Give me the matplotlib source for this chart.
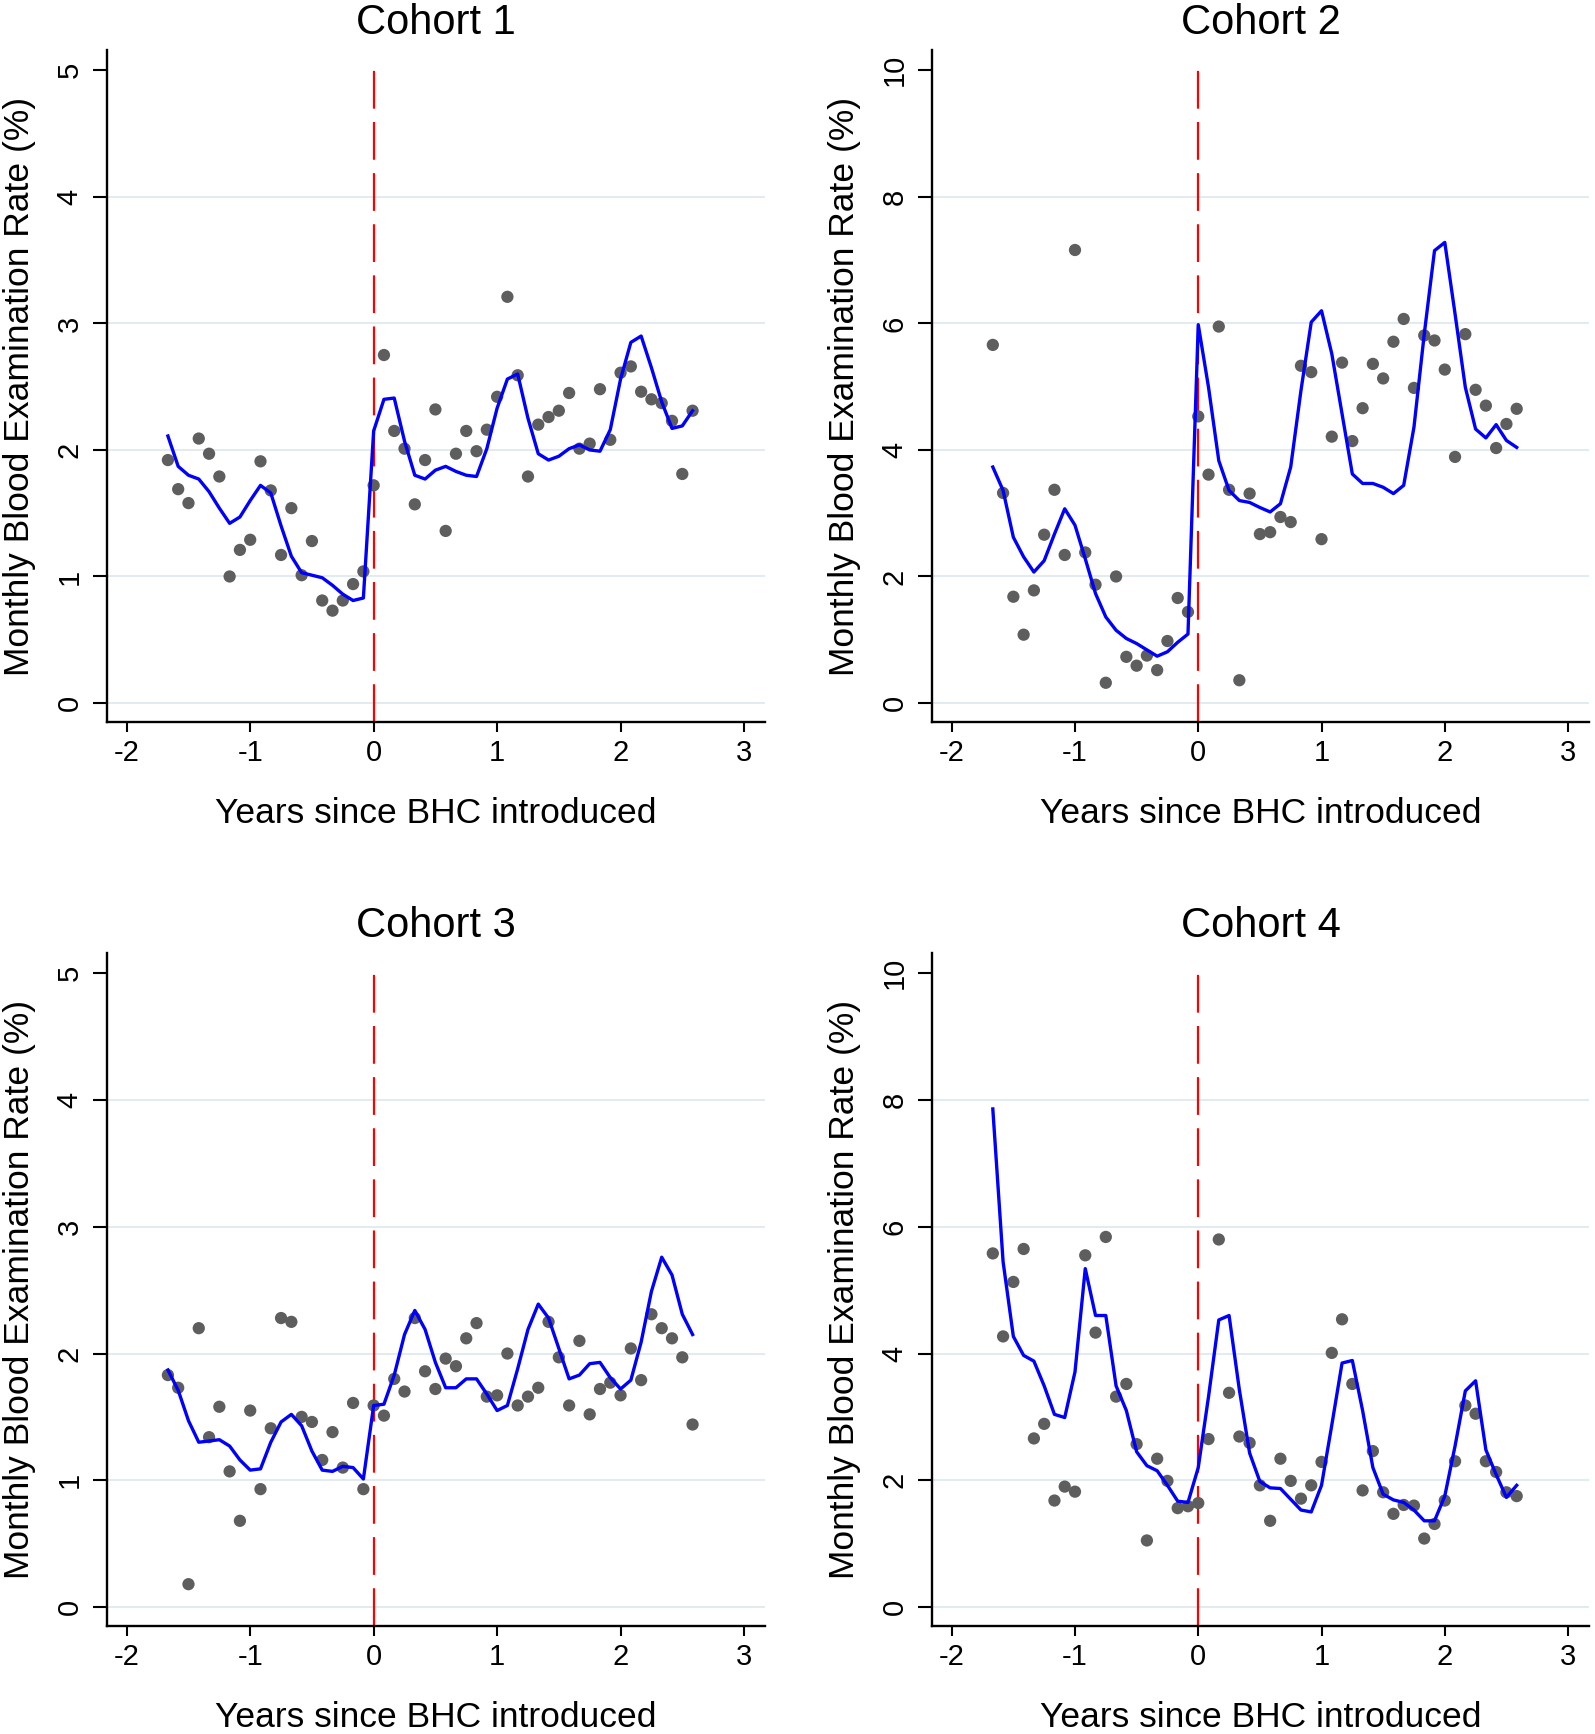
import numpy as np
import matplotlib
matplotlib.use("Agg")
import matplotlib.pyplot as plt

plt.rcParams['font.family'] = ['Liberation Sans', 'DejaVu Sans']

# months relative to BHC introduction (-20 .. 31), plotted in years
months = np.arange(-20, 32)
years = months / 12.0

cohort_names = ["Cohort 1", "Cohort 2", "Cohort 3", "Cohort 4"]

c1_rate = [1.92, 1.69, 1.58, 2.09, 1.97, 1.79, 1.00, 1.21, 1.29, 1.91,
           1.68, 1.17, 1.54, 1.01, 1.28, 0.81, 0.73, 0.81, 0.94, 1.04,
           1.72, 2.75, 2.15, 2.01, 1.57, 1.92, 2.32, 1.36, 1.97, 2.15,
           1.99, 2.16, 2.42, 3.21, 2.59, 1.79, 2.20, 2.26, 2.31, 2.45,
           2.01, 2.05, 2.48, 2.08, 2.61, 2.66, 2.46, 2.40, 2.37, 2.23,
           1.81, 2.31]
c1_fit = [2.11, 1.87, 1.80, 1.77, 1.67, 1.54, 1.42, 1.47, 1.60, 1.72,
          1.66, 1.40, 1.16, 1.03, 1.01, 0.99, 0.93, 0.86, 0.81, 0.83,
          2.15, 2.40, 2.41, 2.07, 1.80, 1.77, 1.84, 1.87, 1.83, 1.80,
          1.79, 2.01, 2.33, 2.56, 2.60, 2.25, 1.97, 1.92, 1.95, 2.01,
          2.04, 2.00, 1.99, 2.16, 2.56, 2.85, 2.90, 2.65, 2.38, 2.17,
          2.19, 2.31]

c2_rate = [5.66, 3.32, 1.68, 1.08, 1.78, 2.66, 3.37, 2.34, 7.16, 2.38,
           1.87, 0.32, 2.00, 0.73, 0.59, 0.75, 0.52, 0.98, 1.66, 1.44,
           4.53, 3.61, 5.95, 3.37, 0.36, 3.31, 2.67, 2.70, 2.94, 2.86,
           5.33, 5.23, 2.59, 4.21, 5.38, 4.14, 4.66, 5.36, 5.13, 5.71,
           6.07, 4.98, 5.81, 5.73, 5.27, 3.89, 5.83, 4.95, 4.70, 4.03,
           4.41, 4.65]
c2_fit = [3.73, 3.36, 2.62, 2.31, 2.07, 2.25, 2.67, 3.07, 2.81, 2.28,
          1.73, 1.36, 1.15, 1.02, 0.94, 0.84, 0.74, 0.81, 0.96, 1.09,
          5.98, 4.99, 3.83, 3.36, 3.20, 3.17, 3.09, 3.02, 3.15, 3.73,
          4.94, 6.02, 6.20, 5.52, 4.57, 3.62, 3.47, 3.47, 3.41, 3.31,
          3.44, 4.36, 5.83, 7.15, 7.28, 6.15, 4.99, 4.33, 4.19, 4.40,
          4.15, 4.04]

c3_rate = [1.83, 1.73, 0.18, 2.20, 1.34, 1.58, 1.07, 0.68, 1.55, 0.93,
           1.41, 2.28, 2.25, 1.50, 1.46, 1.16, 1.38, 1.10, 1.61, 0.93,
           1.59, 1.51, 1.80, 1.70, 2.28, 1.86, 1.72, 1.96, 1.90, 2.12,
           2.24, 1.66, 1.67, 2.00, 1.59, 1.66, 1.73, 2.25, 1.97, 1.59,
           2.10, 1.52, 1.72, 1.77, 1.67, 2.04, 1.79, 2.31, 2.20, 2.12,
           1.97, 1.44]
c3_fit = [1.87, 1.71, 1.47, 1.30, 1.31, 1.32, 1.27, 1.16, 1.08, 1.09,
          1.30, 1.46, 1.52, 1.43, 1.23, 1.08, 1.07, 1.11, 1.10, 1.01,
          1.59, 1.60, 1.83, 2.15, 2.34, 2.19, 1.93, 1.73, 1.73, 1.80,
          1.80, 1.68, 1.55, 1.59, 1.88, 2.19, 2.39, 2.28, 2.04, 1.80,
          1.83, 1.92, 1.93, 1.81, 1.72, 1.79, 2.09, 2.49, 2.76, 2.62,
          2.31, 2.15]

c4_rate = [5.58, 4.27, 5.13, 5.65, 2.66, 2.89, 1.68, 1.90, 1.82, 5.55,
           4.33, 5.84, 3.32, 3.52, 2.57, 1.05, 2.34, 1.99, 1.56, 1.59,
           1.64, 2.65, 5.80, 3.38, 2.69, 2.59, 1.92, 1.36, 2.34, 1.99,
           1.71, 1.92, 2.29, 4.01, 4.54, 3.52, 1.84, 2.46, 1.81, 1.47,
           1.61, 1.60, 1.08, 1.31, 1.68, 2.30, 3.18, 3.05, 2.30, 2.13,
           1.81, 1.75]
c4_fit = [7.86, 5.45, 4.27, 3.97, 3.88, 3.49, 3.04, 2.99, 3.71, 5.34,
          4.60, 4.60, 3.49, 3.10, 2.45, 2.23, 2.15, 1.92, 1.67, 1.65,
          2.20, 3.32, 4.53, 4.60, 3.43, 2.43, 1.98, 1.88, 1.87, 1.70,
          1.53, 1.50, 1.92, 2.87, 3.85, 3.89, 3.10, 2.20, 1.78, 1.69,
          1.65, 1.53, 1.36, 1.36, 1.75, 2.54, 3.41, 3.57, 2.48, 2.09,
          1.73, 1.92]

rates = [c1_rate, c2_rate, c3_rate, c4_rate]
fits = [c1_fit, c2_fit, c3_fit, c4_fit]
y_ticks = [[0, 1, 2, 3, 4, 5], [0, 2, 4, 6, 8, 10],
           [0, 1, 2, 3, 4, 5], [0, 2, 4, 6, 8, 10]]
x_ticks = [-2, -1, 0, 1, 2, 3]

W, H = 1595, 1734
fig = plt.figure(figsize=(W / 100, H / 100), dpi=100)


def rect(l, r, t, b):
    return [l / W, 1 - b / H, (r - l) / W, (b - t) / H]


rects = [rect(107, 765, 50, 722), rect(932, 1589, 50, 722),
         rect(107, 765, 953, 1626), rect(932, 1589, 953, 1626)]

for i in range(4):
    ax = fig.add_axes(rects[i])
    yt = y_ticks[i]
    ymax = yt[-1]
    pad = ymax * 0.03
    ax.set_xlim(-2.16, 3.17)
    ax.set_ylim(-pad, ymax + pad * 1.07)

    for v in yt[:-1]:
        ax.axhline(v, color='#e2ecf0', lw=1.4, zorder=0)

    ax.vlines(0, -pad, ymax, colors='#ff0000', lw=1.6,
              linestyles=(0, (17, 6)), zorder=1)
    ax.scatter(years, rates[i], s=78, color='#5e5e5e', edgecolors='none', zorder=2)
    ax.plot(years, fits[i], color='#0000ff', lw=2.4, zorder=3)

    ax.spines['top'].set_visible(False)
    ax.spines['right'].set_visible(False)
    ax.spines['left'].set_linewidth(1.7)
    ax.spines['bottom'].set_linewidth(1.7)

    ax.set_xticks(x_ticks)
    ax.set_xticklabels([str(t) for t in x_ticks])
    ax.set_yticks(yt)
    ax.set_yticklabels([str(t) for t in yt], rotation=90, va='center')
    ax.tick_params(axis='x', length=7, width=1.5, pad=5, labelsize=21)
    ax.tick_params(axis='y', length=10, width=1.5, pad=7, labelsize=21)

    ax.set_xlabel("Years since BHC introduced", fontsize=25.5)
    ax.xaxis.set_label_coords(0.5, -0.112)
    ax.set_ylabel("Monthly Blood Examination Rate (%)", fontsize=25.5)
    ax.yaxis.set_label_coords(-0.108, 0.5)
    ax.text(0.5, 1.04, cohort_names[i], transform=ax.transAxes,
            ha='center', va='center', fontsize=30)

fig.savefig("out.png", dpi=100)
